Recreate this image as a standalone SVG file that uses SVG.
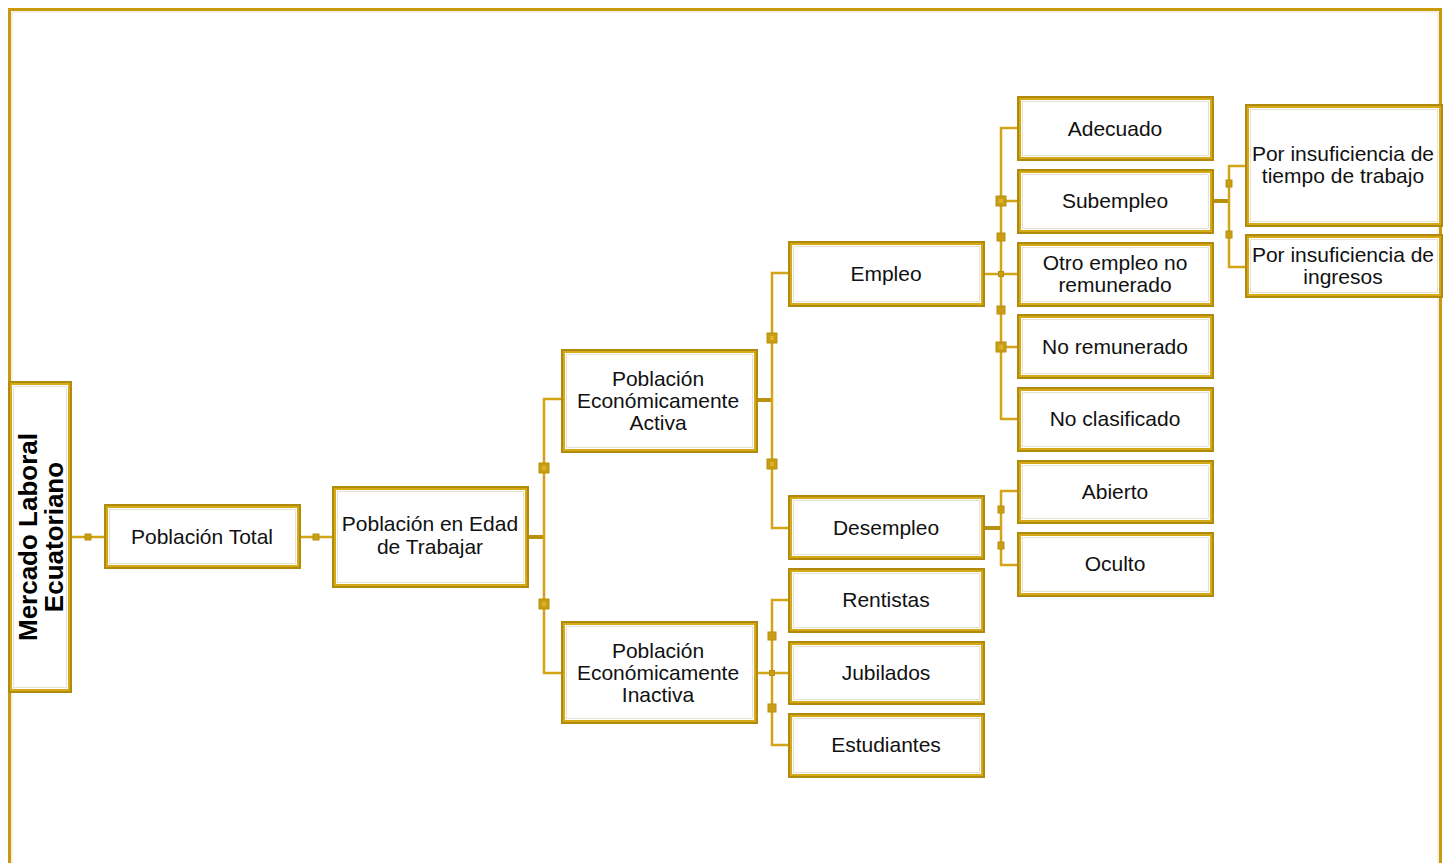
<svg xmlns="http://www.w3.org/2000/svg" width="1450" height="863" viewBox="0 0 1450 863">
<style>
.o{fill:#fff;stroke:#B08A0C;stroke-width:4}
.i{fill:none;stroke:#D6A916;stroke-width:2}
.l{fill:none;stroke:#E6E1D2;stroke-width:1}
.t{font-family:"Liberation Sans",Arial,sans-serif;font-size:21px;fill:#111;text-anchor:middle}
.tb{font-family:"Liberation Sans",Arial,sans-serif;font-size:26px;font-weight:bold;fill:#000;text-anchor:middle}
.c{fill:none;stroke:#D2A516;stroke-width:2.5}
.s{fill:none;stroke:#B8900E;stroke-width:4}
.sq{fill:#C99E14;stroke:#B8900E;stroke-width:1}
.sh{fill:#DDB12A}
</style>
<rect width="1450" height="863" fill="#fff"/>
<g id="frame">
<path d="M9.5,870 V9.5 H1440.5 V870" fill="none" stroke="#C89A0C" stroke-width="3"/>
<path d="M12,870 V12 H1438 V870" fill="none" stroke="#E6E1D2" stroke-width="1"/>
</g>
<g id="connectors">
<path class="c" d="M70,537 H106"/>
<rect class="sq" x="85" y="534" width="6" height="6"/>
<path class="c" d="M299,537 H334"/>
<rect class="sq" x="313" y="534" width="6" height="6"/>
<path class="s" d="M527,537 H544"/>
<path class="c" d="M563,399 H544 V673 H563"/>
<rect class="sq" x="539" y="463" width="10" height="10"/><rect class="sh" x="542" y="466" width="4" height="4"/>
<rect class="sq" x="539" y="599" width="10" height="10"/><rect class="sh" x="542" y="602" width="4" height="4"/>
<path class="s" d="M756,400 H772"/>
<path class="c" d="M790,273 H772 V528 H790"/>
<rect class="sq" x="767" y="333" width="10" height="10"/><rect class="sh" x="770" y="336" width="4" height="4"/>
<rect class="sq" x="767" y="459" width="10" height="10"/><rect class="sh" x="770" y="462" width="4" height="4"/>
<path class="c" d="M756,673 H790"/>
<path class="c" d="M790,600 H772 V745 H790"/>
<rect class="sq" x="768" y="632" width="8" height="8"/>
<rect class="sq" x="768" y="704" width="8" height="8"/>
<rect class="sq" x="769.5" y="670.5" width="5" height="5"/>
<path class="c" d="M983,274 H1019"/>
<path class="c" d="M1019,128 H1001 V419 H1019 M1001,201 H1019 M1001,347 H1019"/>
<rect class="sq" x="996" y="196" width="10" height="10"/><rect class="sh" x="999" y="199" width="4" height="4"/>
<rect class="sq" x="997" y="233" width="8" height="8"/>
<rect class="sq" x="997" y="306" width="8" height="8"/>
<rect class="sq" x="996" y="342" width="10" height="10"/><rect class="sh" x="999" y="345" width="4" height="4"/>
<rect class="sq" x="998.5" y="271.5" width="5" height="5"/>
<path class="s" d="M1212,201 H1229"/>
<path class="c" d="M1247,166 H1229 V267 H1247"/>
<rect class="sq" x="1226" y="180" width="6" height="7"/>
<rect class="sq" x="1226" y="231" width="6" height="7"/>
<path class="s" d="M983,528 H1001"/>
<path class="c" d="M1019,491 H1001 V565 H1019"/>
<rect class="sq" x="998" y="506" width="6" height="7"/>
<rect class="sq" x="998" y="542" width="6" height="7"/>
</g>
<g id="n-mercado">
<rect class="o" x="10" y="383" width="60" height="308"/><rect class="i" x="11" y="384" width="58" height="306"/><rect class="l" x="13.5" y="386.5" width="53" height="301"/>
<text class="tb" transform="translate(37,537) rotate(-90)"><tspan x="0" y="0">Mercado Laboral</tspan><tspan x="0" y="26">Ecuatoriano</tspan></text>
</g>
<g id="n-total">
<rect class="o" x="106" y="506" width="193" height="61"/><rect class="i" x="107" y="507" width="191" height="59"/><rect class="l" x="109.5" y="509.5" width="186" height="54"/>
<text class="t" x="202" y="544">Población Total</text>
</g>
<g id="n-pet">
<rect class="o" x="334" y="488" width="193" height="98"/><rect class="i" x="335" y="489" width="191" height="96"/><rect class="l" x="337.5" y="491.5" width="186" height="91"/>
<text class="t" x="430" y="531">Población en Edad</text>
<text class="t" x="430" y="554">de Trabajar</text>
</g>
<g id="n-pea">
<rect class="o" x="563" y="351" width="193" height="100"/><rect class="i" x="564" y="352" width="191" height="98"/><rect class="l" x="566.5" y="354.5" width="186" height="93"/>
<text class="t" x="658" y="386">Población</text>
<text class="t" x="658" y="408">Económicamente</text>
<text class="t" x="658" y="430">Activa</text>
</g>
<g id="n-pei">
<rect class="o" x="563" y="623" width="193" height="99"/><rect class="i" x="564" y="624" width="191" height="97"/><rect class="l" x="566.5" y="626.5" width="186" height="92"/>
<text class="t" x="658" y="658">Población</text>
<text class="t" x="658" y="680">Económicamente</text>
<text class="t" x="658" y="702">Inactiva</text>
</g>
<g id="n-empleo">
<rect class="o" x="790" y="243" width="193" height="62"/><rect class="i" x="791" y="244" width="191" height="60"/><rect class="l" x="793.5" y="246.5" width="186" height="55"/>
<text class="t" x="886" y="281">Empleo</text>
</g>
<g id="n-desempleo">
<rect class="o" x="790" y="497" width="193" height="61"/><rect class="i" x="791" y="498" width="191" height="59"/><rect class="l" x="793.5" y="500.5" width="186" height="54"/>
<text class="t" x="886" y="535">Desempleo</text>
</g>
<g id="n-rentistas">
<rect class="o" x="790" y="570" width="193" height="61"/><rect class="i" x="791" y="571" width="191" height="59"/><rect class="l" x="793.5" y="573.5" width="186" height="54"/>
<text class="t" x="886" y="607">Rentistas</text>
</g>
<g id="n-jubilados">
<rect class="o" x="790" y="643" width="193" height="60"/><rect class="i" x="791" y="644" width="191" height="58"/><rect class="l" x="793.5" y="646.5" width="186" height="53"/>
<text class="t" x="886" y="680">Jubilados</text>
</g>
<g id="n-estudiantes">
<rect class="o" x="790" y="715" width="193" height="61"/><rect class="i" x="791" y="716" width="191" height="59"/><rect class="l" x="793.5" y="718.5" width="186" height="54"/>
<text class="t" x="886" y="752">Estudiantes</text>
</g>
<g id="n-adecuado">
<rect class="o" x="1019" y="98" width="193" height="61"/><rect class="i" x="1020" y="99" width="191" height="59"/><rect class="l" x="1022.5" y="101.5" width="186" height="54"/>
<text class="t" x="1115" y="136">Adecuado</text>
</g>
<g id="n-subempleo">
<rect class="o" x="1019" y="171" width="193" height="61"/><rect class="i" x="1020" y="172" width="191" height="59"/><rect class="l" x="1022.5" y="174.5" width="186" height="54"/>
<text class="t" x="1115" y="208">Subempleo</text>
</g>
<g id="n-otro">
<rect class="o" x="1019" y="244" width="193" height="61"/><rect class="i" x="1020" y="245" width="191" height="59"/><rect class="l" x="1022.5" y="247.5" width="186" height="54"/>
<text class="t" x="1115" y="270">Otro empleo no</text>
<text class="t" x="1115" y="292">remunerado</text>
</g>
<g id="n-noremunerado">
<rect class="o" x="1019" y="316" width="193" height="61"/><rect class="i" x="1020" y="317" width="191" height="59"/><rect class="l" x="1022.5" y="319.5" width="186" height="54"/>
<text class="t" x="1115" y="354">No remunerado</text>
</g>
<g id="n-noclasificado">
<rect class="o" x="1019" y="389" width="193" height="61"/><rect class="i" x="1020" y="390" width="191" height="59"/><rect class="l" x="1022.5" y="392.5" width="186" height="54"/>
<text class="t" x="1115" y="426">No clasificado</text>
</g>
<g id="n-abierto">
<rect class="o" x="1019" y="462" width="193" height="60"/><rect class="i" x="1020" y="463" width="191" height="58"/><rect class="l" x="1022.5" y="465.5" width="186" height="53"/>
<text class="t" x="1115" y="499">Abierto</text>
</g>
<g id="n-oculto">
<rect class="o" x="1019" y="534" width="193" height="61"/><rect class="i" x="1020" y="535" width="191" height="59"/><rect class="l" x="1022.5" y="537.5" width="186" height="54"/>
<text class="t" x="1115" y="571">Oculto</text>
</g>
<g id="n-tiempo">
<rect class="o" x="1247" y="106" width="194" height="119"/><rect class="i" x="1248" y="107" width="192" height="117"/><rect class="l" x="1250.5" y="109.5" width="187" height="112"/>
<text class="t" x="1343" y="161">Por insuficiencia de</text>
<text class="t" x="1343" y="183">tiempo de trabajo</text>
</g>
<g id="n-ingresos">
<rect class="o" x="1247" y="236" width="194" height="60"/><rect class="i" x="1248" y="237" width="192" height="58"/><rect class="l" x="1250.5" y="239.5" width="187" height="53"/>
<text class="t" x="1343" y="262">Por insuficiencia de</text>
<text class="t" x="1343" y="284">ingresos</text>
</g>
</svg>
